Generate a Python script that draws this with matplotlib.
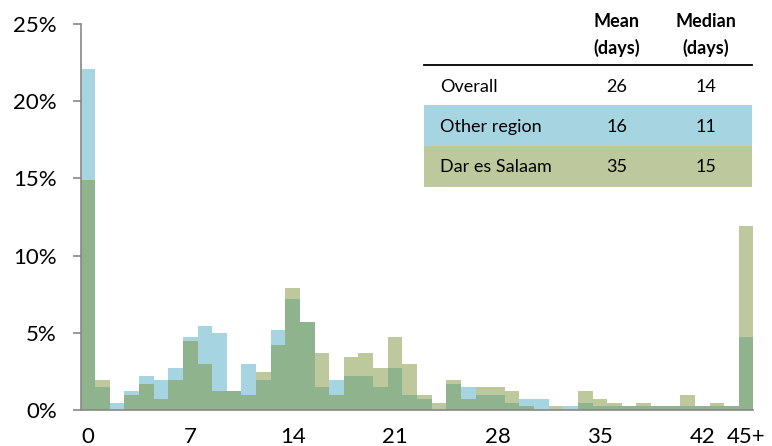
import numpy as np
import matplotlib
matplotlib.use('Agg')
import matplotlib.pyplot as plt
from matplotlib.patches import Rectangle

plt.rcParams['font.family'] = ['Lato', 'DejaVu Sans']

# days waited, 0..44 plus a 45+ bucket
days = np.arange(46)
tick_pos = [0, 7, 14, 21, 28, 35, 42, 45]
tick_labels = ['0', '7', '14', '21', '28', '35', '42', '45+']

# share of cases (%) per day
other_region = [22.1, 1.47, 0.47, 1.25, 2.22, 1.96, 2.72, 4.70, 5.46, 4.96,
                1.21, 2.96, 1.96, 5.20, 7.16, 5.69, 1.47, 1.96, 2.22, 2.22,
                1.47, 2.72, 0.95, 0.71, 0.0, 1.70, 1.47, 0.95, 0.95, 0.47,
                0.71, 0.71, 0.0, 0.24, 0.47, 0.24, 0.24, 0.24, 0.24, 0.24,
                0.24, 0.24, 0.24, 0.24, 0.24, 4.70]
dar_es_salaam = [14.9, 1.96, 0.0, 0.95, 1.70, 0.71, 1.96, 4.44, 2.96, 1.21,
                 1.21, 0.95, 2.46, 4.18, 7.92, 5.69, 3.71, 0.95, 3.45, 3.71,
                 2.72, 4.70, 2.96, 0.97, 0.47, 1.96, 0.71, 1.47, 1.47, 1.21,
                 0.24, 0.0, 0.24, 0.0, 1.21, 0.71, 0.47, 0.24, 0.47, 0.24,
                 0.24, 0.97, 0.24, 0.47, 0.24, 11.9]

# summary table
row_names = ['Overall', 'Other region', 'Dar es Salaam']
mean_days = [26, 16, 35]
median_days = [14, 11, 15]

blue = '#A6D4E1'
olive = '#BDC99D'
overlap = '#8FB48D'
gray = '#888888'

fig = plt.figure(figsize=(7.72, 4.46), dpi=100)
ax = fig.add_axes([0.1043, 0.0807, 0.8717, 0.8655])

other = np.array(other_region)
des = np.array(dar_es_salaam)
ax.bar(days, other, width=1.0, color=blue, linewidth=0)
ax.bar(days, des, width=1.0, color=olive, linewidth=0)
ax.bar(days, np.minimum(other, des), width=1.0, color=overlap, linewidth=0)

ax.set_xlim(-0.5, 45.5)
ax.set_ylim(0, 25)
ax.set_yticks([0, 5, 10, 15, 20, 25])
ax.set_yticklabels(['0%', '5%', '10%', '15%', '20%', '25%'])
ax.set_xticks(tick_pos)
ax.set_xticklabels(tick_labels)
ax.tick_params(axis='y', length=6, width=1.2, color=gray, pad=11, labelsize=16)
ax.tick_params(axis='x', length=0, pad=12, labelsize=16)
for s in ['top', 'right']:
    ax.spines[s].set_visible(False)
for s in ['left', 'bottom']:
    ax.spines[s].set_color(gray)
    ax.spines[s].set_linewidth(1.2)

# table in the upper right
tf = fig.transFigure
x0, x1 = 0.549, 0.974
col_label, col_mean, col_median = 0.570, 0.799, 0.9145
fig.add_artist(plt.Line2D([x0, x1], [0.8536, 0.8536], color='black', lw=1.3, transform=tf))
fig.add_artist(Rectangle((x0, 0.6726), x1 - x0, 0.092, color=blue, lw=0, transform=tf))
fig.add_artist(Rectangle((x0, 0.5814), x1 - x0, 0.0912, color=olive, lw=0, transform=tf))

for xc, head in [(col_mean, 'Mean'), (col_median, 'Median')]:
    fig.text(xc, 0.951, head, ha='center', va='center', fontsize=13, fontweight='bold')
    fig.text(xc, 0.893, '(days)', ha='center', va='center', fontsize=13, fontweight='bold')

row_y = [0.805, 0.715, 0.626]
for name, m, md, y in zip(row_names, mean_days, median_days, row_y):
    fig.text(col_label, y, name, ha='left', va='center', fontsize=13)
    fig.text(col_mean, y, str(m), ha='center', va='center', fontsize=13)
    fig.text(col_median, y, str(md), ha='center', va='center', fontsize=13)

fig.savefig('out.png', dpi=100)
plt.close(fig)
